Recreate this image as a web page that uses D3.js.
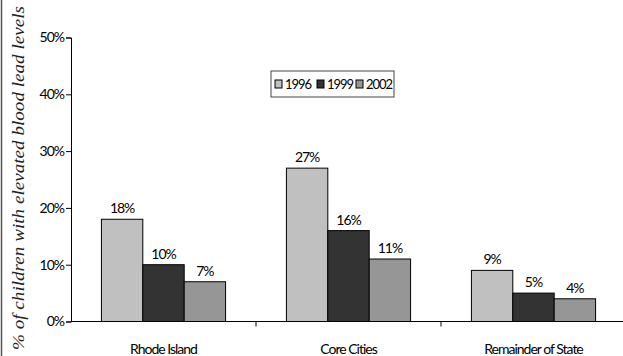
<!DOCTYPE html>
<html>
<head>
<meta charset="utf-8">
<script src="https://cdn.jsdelivr.net/npm/d3@7"></script>
<style>
  html, body { margin: 0; padding: 0; background: #fff; }
  svg { display: block; }
  .sans { font-family: Lato, "Open Sans", sans-serif; letter-spacing: -1px; }
  .serif { font-family: "Liberation Serif", "DejaVu Serif", "Times New Roman", serif; font-style: italic; }
</style>
</head>
<body>
<svg id="chart" width="623" height="356"></svg>
<script>
// Share of children with elevated blood lead levels, by area and year
const categories = ["Rhode Island", "Core Cities", "Remainder of State"];
const years = ["1996", "1999", "2002"];
const values1996 = [18, 27, 9];
const values1999 = [10, 16, 5];
const values2002 = [7, 11, 4];
const yTicks = [0, 10, 20, 30, 40, 50];
const colors = ["#c0c0c0", "#333333", "#969696"];

const series = [values1996, values1999, values2002];

const svg = d3.select("#chart");
const W = 623, H = 356;
const plotLeft = 71, plotRight = 626, plotTop = 37.5, plotBottom = 321.5;

const x0 = d3.scaleBand().domain(categories).range([plotLeft, plotRight]).paddingInner(0).paddingOuter(0);
const x1 = d3.scaleBand().domain(years).range([0, x0.bandwidth()]).paddingInner(0).paddingOuter(0.735);
const y = d3.scaleLinear().domain([0, 50]).range([plotBottom, plotTop]);

// frame line on the left edge
svg.append("line").attr("x1", 1.5).attr("x2", 1.5).attr("y1", 0).attr("y2", H)
  .attr("stroke", "#555").attr("stroke-width", 1.5);

// y axis
const yAxis = svg.append("g").attr("transform", `translate(${plotLeft},0)`)
  .call(d3.axisLeft(y).tickValues(yTicks).tickSize(5).tickPadding(2).tickFormat(d => d + "%"));
yAxis.select(".domain").attr("stroke", "#000");
yAxis.selectAll(".tick line").attr("stroke", "#000");
yAxis.selectAll("text").attr("class", "sans").attr("font-size", 14).attr("fill", "#000");

// bars
const groups = svg.append("g").selectAll("g").data(categories).join("g")
  .attr("transform", d => `translate(${x0(d)},0)`);

groups.each(function(cat, ci) {
  const g = d3.select(this);
  years.forEach((yr, si) => {
    const v = series[si][ci];
    g.append("rect")
      .attr("x", x1(yr)).attr("y", y(v))
      .attr("width", x1.bandwidth()).attr("height", y(0) - y(v))
      .attr("fill", colors[si]).attr("stroke", "#000").attr("stroke-width", 1);
    g.append("text")
      .attr("class", "sans")
      .attr("x", x1(yr) + x1.bandwidth() / 2).attr("y", y(v) - 6)
      .attr("text-anchor", "middle").attr("font-size", 14).attr("fill", "#000")
      .text(v + "%");
  });
});

// x axis
const xAxis = svg.append("g").attr("transform", `translate(0,${plotBottom})`);
xAxis.append("line").attr("x1", plotLeft).attr("x2", W).attr("y1", 0).attr("y2", 0).attr("stroke", "#000");
const boundaries = categories.slice(1).map(c => x0(c));
xAxis.selectAll("line.tk").data(boundaries).join("line").attr("class", "tk")
  .attr("x1", d => d).attr("x2", d => d).attr("y1", 0).attr("y2", 5).attr("stroke", "#000");
xAxis.selectAll("text").data(categories).join("text")
  .attr("class", "sans")
  .attr("x", d => x0(d) + x0.bandwidth() / 2).attr("y", 32)
  .attr("text-anchor", "middle").attr("font-size", 14).attr("fill", "#000")
  .text(d => d);

// y axis title
svg.append("text")
  .attr("class", "serif")
  .attr("transform", `translate(24,178) rotate(-90)`)
  .attr("text-anchor", "middle")
  .attr("font-size", 17).attr("fill", "#222")
  .attr("textLength", 344).attr("lengthAdjust", "spacingAndGlyphs")
  .text("% of children with elevated blood lead levels");

// legend
const lg = svg.append("g").attr("transform", "translate(271,71)");
lg.append("rect").attr("width", 123).attr("height", 26).attr("fill", "#fff").attr("stroke", "#444");
const legendX = [4, 46, 85];
years.forEach((yr, i) => {
  lg.append("rect").attr("x", legendX[i]).attr("y", 9).attr("width", 7).attr("height", 8)
    .attr("fill", colors[i]).attr("stroke", "#000");
  lg.append("text").attr("class", "sans").attr("x", legendX[i] + 10).attr("y", 18)
    .attr("font-size", 13).attr("fill", "#000").text(yr);
});
</script>
</body>
</html>
